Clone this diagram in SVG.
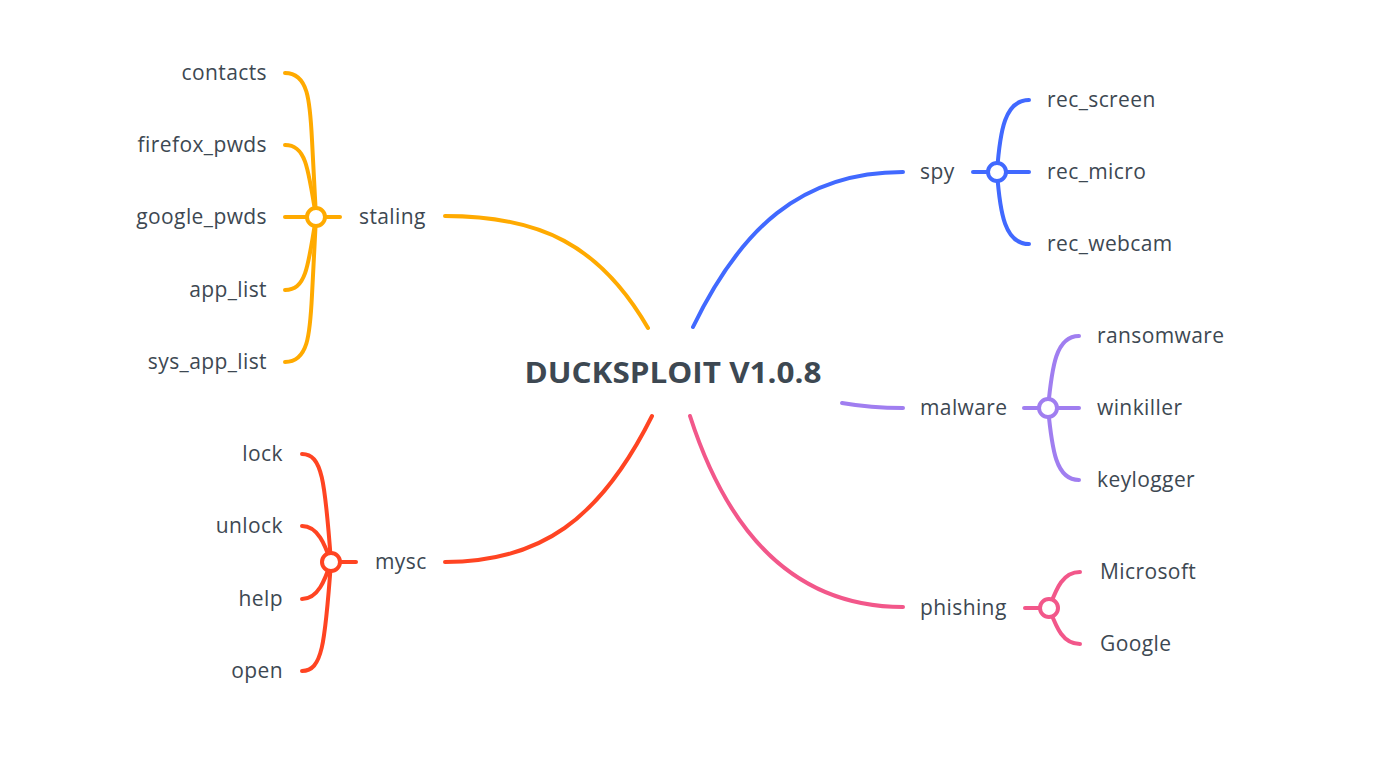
<svg xmlns="http://www.w3.org/2000/svg" width="1376" height="771" viewBox="0 0 1376 771">
<style>
.t{font-family:"Open Sans","Noto Sans",sans-serif;font-size:21px;letter-spacing:0.4px;fill:#3d4852}
.r{text-anchor:end}
.main{font-family:"Open Sans","Noto Sans",sans-serif;font-size:28px;font-weight:bold;fill:#3d4852;text-anchor:middle}
path,line{fill:none;stroke-width:4;stroke-linecap:round}
circle{fill:#fff;stroke-width:4}
.o{stroke:#ffaa00}.b{stroke:#4169ff}.p{stroke:#a07ef0}.k{stroke:#f2578a}.rd{stroke:#ff4422}
</style>
<rect width="1376" height="771" fill="#fff"/>
<g id="connectors">
<path class="o" d="M648,328 C600,245 540,216 445,216"/>
<path class="b" d="M693,327 C740,230 800,172 903,172"/>
<path class="p" d="M842,403 C865,407 880,408 903,408"/>
<path class="k" d="M690,416 C730,540 800,607 903,607"/>
<path class="rd" d="M652,416 C600,520 540,562 445,562"/>
<line class="o" x1="325" y1="217" x2="340" y2="217"/>
<path class="o" d="M285,73 C308,73 310,100 312,140 L316,217"/>
<path class="o" d="M285,145 C305,145 308,165 316,217"/>
<line class="o" x1="285" y1="217" x2="307" y2="217"/>
<path class="o" d="M285,290 C305,290 308,270 316,217"/>
<path class="o" d="M285,362 C308,362 310,335 312,295 L316,217"/>
<line class="b" x1="973" y1="172" x2="988" y2="172"/>
<path class="b" d="M1029,100 C1005,100 1000,130 997,172"/>
<line class="b" x1="1006" y1="172" x2="1029" y2="172"/>
<path class="b" d="M1029,244 C1005,244 1000,214 997,172"/>
<line class="p" x1="1024" y1="408" x2="1039" y2="408"/>
<path class="p" d="M1079,336 C1056,336 1052,366 1048,408"/>
<line class="p" x1="1057" y1="408" x2="1079" y2="408"/>
<path class="p" d="M1079,480 C1056,480 1052,450 1048,408"/>
<line class="k" x1="1025" y1="608" x2="1040" y2="608"/>
<path class="k" d="M1080,572 C1062,572 1056,590 1049,608"/>
<path class="k" d="M1080,644 C1062,644 1056,626 1049,608"/>
<line class="rd" x1="340" y1="562" x2="356" y2="562"/>
<path class="rd" d="M302,454 C322,454 325,480 331,562"/>
<path class="rd" d="M302,526 C318,526 325,545 331,562"/>
<path class="rd" d="M302,599 C318,599 325,580 331,562"/>
<path class="rd" d="M302,671 C322,671 325,645 331,562"/>
</g>
<g id="root"><text class="main" x="673" y="383" textLength="297" lengthAdjust="spacingAndGlyphs">DUCKSPLOIT V1.0.8</text></g>
<g id="staling"><text class="t" x="359" y="224">staling</text><circle class="o" cx="316" cy="217" r="9"/></g>
<g id="contacts"><text class="t r" x="267" y="80">contacts</text></g>
<g id="firefox_pwds"><text class="t r" x="267" y="152">firefox_pwds</text></g>
<g id="google_pwds"><text class="t r" x="267" y="224">google_pwds</text></g>
<g id="app_list"><text class="t r" x="267" y="297">app_list</text></g>
<g id="sys_app_list"><text class="t r" x="267" y="369">sys_app_list</text></g>
<g id="spy"><text class="t" x="920" y="179">spy</text><circle class="b" cx="997" cy="172" r="9"/></g>
<g id="rec_screen"><text class="t" x="1047" y="107">rec_screen</text></g>
<g id="rec_micro"><text class="t" x="1047" y="179">rec_micro</text></g>
<g id="rec_webcam"><text class="t" x="1047" y="251">rec_webcam</text></g>
<g id="malware"><text class="t" x="920" y="415">malware</text><circle class="p" cx="1048" cy="408" r="9"/></g>
<g id="ransomware"><text class="t" x="1097" y="343">ransomware</text></g>
<g id="winkiller"><text class="t" x="1097" y="415">winkiller</text></g>
<g id="keylogger"><text class="t" x="1097" y="487">keylogger</text></g>
<g id="phishing"><text class="t" x="920" y="615">phishing</text><circle class="k" cx="1049" cy="608" r="9"/></g>
<g id="Microsoft"><text class="t" x="1100" y="579">Microsoft</text></g>
<g id="Google"><text class="t" x="1100" y="651">Google</text></g>
<g id="mysc"><text class="t" x="375" y="569">mysc</text><circle class="rd" cx="331" cy="562" r="9"/></g>
<g id="lock"><text class="t r" x="283" y="461">lock</text></g>
<g id="unlock"><text class="t r" x="283" y="533">unlock</text></g>
<g id="help"><text class="t r" x="283" y="606">help</text></g>
<g id="open"><text class="t r" x="283" y="678">open</text></g>
</svg>
